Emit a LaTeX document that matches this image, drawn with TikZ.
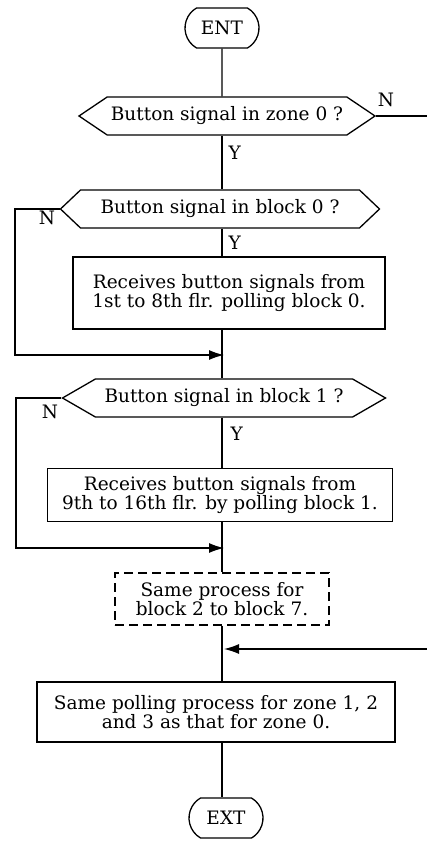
\documentclass[tikz,border=0pt]{standalone}
\usepackage{fontspec}
\setmainfont{DejaVu Serif}
\usetikzlibrary{shapes.misc,shapes.symbols,arrows.meta}
\begin{document}
\begin{tikzpicture}[x=1pt,y=-1pt,line width=1.3pt,
	font=\fontsize{18.5}{19.5}\selectfont,
	end node/.style = {rounded rectangle,draw,rounded rectangle arc length=120,
		minimum width=74pt,minimum height=40pt,inner sep=0pt},
	test node/.style = {signal,signal to=west and east,draw,minimum height=38pt,inner sep=0pt},
	proc node/.style = {rectangle,draw,align=center,inner sep=0pt},
	feed/.style = {-{Latex[length=15pt,width=10pt]}}]
	\useasboundingbox (0,0) rectangle (427,842);
	\node[end node] (1) at (222,28) {ENT};
	\node[test node,minimum width=296pt,signal pointer angle=68] (2) at (227,116) {Button signal in zone 0 ?};
	\node[test node,minimum width=319pt,signal pointer angle=87] (3) at (220,209) {Button signal in block 0 ?};
	\node[proc node,minimum width=312pt,minimum height=72pt] (4) at (229,293) {Receives button signals from\\1st to 8th flr. polling block 0.};
	\node[test node,minimum width=323pt,signal pointer angle=60] (5) at (224,398) {Button signal in block 1 ?};
	\node[proc node,minimum width=345pt,minimum height=53pt] (6) at (220,495) {Receives button signals from\\9th to 16th flr. by polling block 1.};
	\node[proc node,dash pattern=on 9pt off 5pt,minimum width=214pt,minimum height=52pt] (7) at (222,599) {Same process for\\block 2 to block 7.};
	\node[proc node,minimum width=358pt,minimum height=60pt] (8) at (216,712) {Same polling process for zone 1, 2\\and 3 as that for zone 0.};
	\node[end node] (9) at (226,818) {EXT};
	\node (n1) at (386,100) {N};
	\node (n2) at (47,218) {N};
	\node (n3) at (50,412) {N};
	\node[anchor=west,inner sep=0pt] (y1) at (228,153) {Y};
	\node[anchor=west,inner sep=0pt] (y2) at (228,243) {Y};
	\node[anchor=west,inner sep=0pt] (y3) at (230,434) {Y};
	\coordinate (j1) at (224,355);
	\coordinate (j2) at (224,548);
	\coordinate (j3) at (224,649);
	\coordinate (l1) at (15,355);
	\coordinate (l2) at (16,548);
	\coordinate (r1) at (428,649);

	\draw (1) -- (1 |- 2.north);
	\draw (1 |- 2.south) -- (1 |- 3.north);
	\draw (1 |- 3.south) -- (1 |- 4.north);
	\draw (1 |- 4.south) -- (1 |- 5.north);
	\draw (1 |- 5.south) -- (1 |- 6.north);
	\draw (1 |- 6.south) -- (1 |- 7.north);
	\draw (1 |- 7.south) -- (1 |- 8.north);
	\draw (1 |- 8.south) -- (1 |- 9.north);
	\draw[feed] (3.west) -| (l1) -- (j1);
	\draw[feed] (5.west) -| (l2) -- (j2);
	\draw[feed] (2.east) -| (r1) -- (j3);
\end{tikzpicture}
\end{document}
